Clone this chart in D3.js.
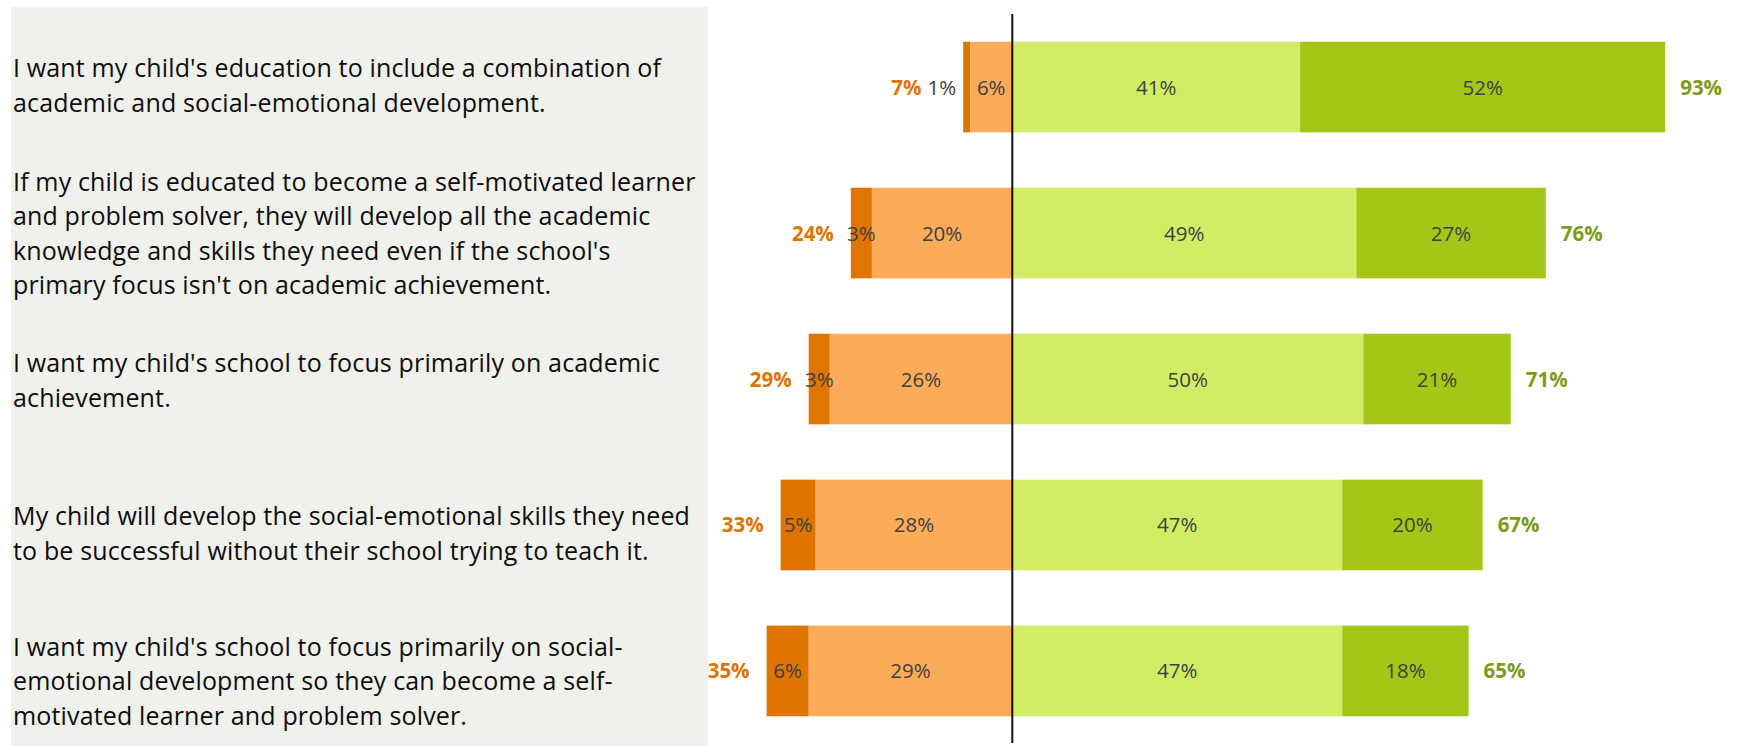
<!DOCTYPE html>
<html>
<head>
<meta charset="utf-8">
<script src="https://cdn.jsdelivr.net/npm/d3@7"></script>
<style>
  html, body { margin: 0; padding: 0; background: #ffffff; }
  svg { display: block; }
</style>
</head>
<body>
<svg id="chart" width="1737" height="746"></svg>
<script>
// ---------------- data ----------------
const categories = [
  "I want my child's education to include a combination of\nacademic and social-emotional development.",
  "If my child is educated to become a self-motivated learner\nand problem solver, they will develop all the academic\nknowledge and skills they need even if the school's\nprimary focus isn't on academic achievement.",
  "I want my child's school to focus primarily on academic\nachievement.",
  "My child will develop the social-emotional skills they need\nto be successful without their school trying to teach it.",
  "I want my child's school to focus primarily on social-\nemotional development so they can become a self-\nmotivated learner and problem solver."
];
const stronglyDisagree = [1, 3, 3, 5, 6];
const disagree         = [6, 20, 26, 28, 29];
const agree            = [41, 49, 50, 47, 47];
const stronglyAgree    = [52, 27, 21, 20, 18];
const disagreeTotals   = [7, 24, 29, 33, 35];
const agreeTotals      = [93, 76, 71, 67, 65];

// ---------------- layout ----------------
const W = 1737, H = 746;
const svg = d3.select("#chart");
const FONT = "'Open Sans', 'Noto Sans', sans-serif";
const colors = {
  sd: "#E07400", d: "#FCAC58", a: "#D1ED66", sa: "#A3C617",
  negTotal: "#E07400", posTotal: "#7E9A1A", label: "#404040"
};
const labelNudge = [-1, 1, 2, 9, 11];

const x = d3.scaleLinear().domain([-40, 100]).range([1012.3 - 40 * 7.02, 1012.3 + 100 * 7.02]);
const y = d3.scaleBand().domain(categories).range([14, 744]).paddingInner(0.379).paddingOuter(0.19);

// left panel
svg.append("rect").attr("x", 11).attr("y", 7).attr("width", 697).attr("height", H - 7)
  .attr("fill", "#F0F0EC");

// question labels
const lineH = 34.5;
categories.forEach((c, i) => {
  const lines = c.split("\n");
  const cy = y(c) + y.bandwidth() / 2 + labelNudge[i];
  const t = svg.append("text").attr("font-family", FONT).attr("font-size", 25)
    .attr("letter-spacing", 0.15).attr("fill", "#0d0d0d");
  lines.forEach((ln, j) => {
    t.append("tspan").attr("x", 13)
      .attr("y", cy + (j - (lines.length - 1) / 2) * lineH + 8.5)
      .text(ln);
  });
});

// build segments
const rows = categories.map((c, i) => ({
  cat: c, i,
  segs: [
    { key: "sd", x0: -(stronglyDisagree[i] + disagree[i]), x1: -disagree[i], v: stronglyDisagree[i] },
    { key: "d",  x0: -disagree[i], x1: 0, v: disagree[i] },
    { key: "a",  x0: 0, x1: agree[i], v: agree[i] },
    { key: "sa", x0: agree[i], x1: agree[i] + stronglyAgree[i], v: stronglyAgree[i] }
  ]
}));

const g = svg.append("g");
rows.forEach(r => {
  const yc = y(r.cat) + y.bandwidth() / 2;
  g.selectAll(null).data(r.segs).join("rect")
    .attr("x", d => x(d.x0)).attr("width", d => x(d.x1) - x(d.x0))
    .attr("y", y(r.cat)).attr("height", y.bandwidth())
    .attr("fill", d => colors[d.key]);

  let leftEdge = x(r.segs[0].x0);
  r.segs.forEach(d => {
    const outside = d.v < 2;
    const t = g.append("text").attr("font-family", FONT).attr("font-size", 20.5)
      .attr("fill", colors.label).attr("y", yc + 7.5).text(d.v + "%");
    if (outside) {
      t.attr("x", x(d.x0) - 7).attr("text-anchor", "end");
      leftEdge = x(d.x0) - 7 - t.node().getComputedTextLength() + 11;
    } else {
      t.attr("x", (x(d.x0) + x(d.x1)) / 2).attr("text-anchor", "middle");
    }
  });

  g.append("text").attr("font-family", FONT).attr("font-size", 20.5).attr("font-weight", 700)
    .attr("fill", colors.negTotal).attr("text-anchor", "end")
    .attr("x", leftEdge - 17).attr("y", yc + 7.5).text(disagreeTotals[r.i] + "%");
  g.append("text").attr("font-family", FONT).attr("font-size", 20.5).attr("font-weight", 700)
    .attr("fill", colors.posTotal).attr("text-anchor", "start")
    .attr("x", x(agree[r.i] + stronglyAgree[r.i]) + 15).attr("y", yc + 7.5).text(agreeTotals[r.i] + "%");
});

// zero line
svg.append("line").attr("x1", x(0)).attr("x2", x(0))
  .attr("y1", y.range()[0]).attr("y2", y.range()[1] - 1)
  .attr("stroke", "#111").attr("stroke-width", 2);
</script>
</body>
</html>
